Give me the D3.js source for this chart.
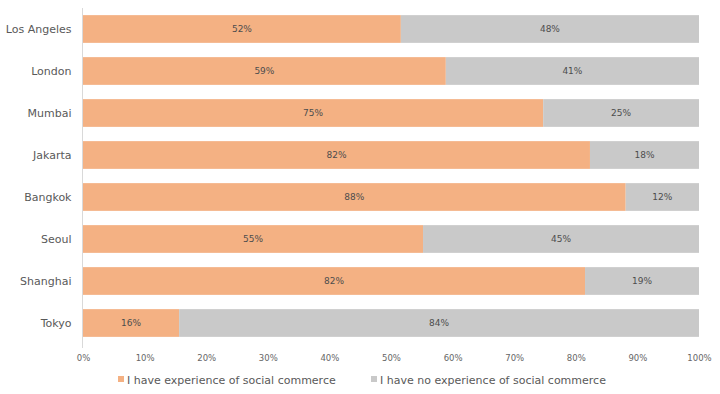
<!DOCTYPE html>
<html>
<head>
<meta charset="utf-8">
<script src="https://cdn.jsdelivr.net/npm/d3@7"></script>
<style>
  body { margin: 0; background: #fff; }
  text { font-family: "DejaVu Sans", Verdana, sans-serif; }
</style>
</head>
<body>
<div class="chart"></div>
<script>
const cities = ["Los Angeles", "London", "Mumbai", "Jakarta", "Bangkok", "Seoul", "Shanghai", "Tokyo"]
const experience = [51.6, 58.9, 74.7, 82.3, 88.1, 55.2, 81.5, 15.6]
const noExperience = [48.4, 41.1, 25.3, 17.7, 11.9, 44.8, 18.5, 84.4]
const seriesNames = ["I have experience of social commerce", "I have no experience of social commerce"]
const colors = ["#f4b183", "#c9c9c9"]
const ticks = [0, 10, 20, 30, 40, 50, 60, 70, 80, 90, 100]

const width = 720, height = 394
const margin = {top: 8, right: 21, bottom: 50, left: 83}

const data = cities.map((c, i) => ({city: c, a: experience[i], b: noExperience[i]}))
const stack = d3.stack().keys(["a", "b"])(data)

const x = d3.scaleLinear().domain([0, 100]).range([margin.left, width - margin.right])
const y = d3.scaleBand().domain(cities).range([margin.top, height - margin.bottom]).paddingInner(0.34).paddingOuter(0.17)

const svg = d3.create("svg").attr("width", width).attr("height", height)

const groups = svg.selectAll("g.series")
    .data(stack)
    .join("g")
    .attr("fill", (d, i) => colors[i])

groups.selectAll("rect")
    .data(d => d)
    .join("rect")
    .attr("x", d => x(d[0]))
    .attr("y", d => y(d.data.city))
    .attr("width", d => x(d[1]) - x(d[0]))
    .attr("height", y.bandwidth())

groups.selectAll("text")
    .data(d => d)
    .join("text")
    .attr("x", d => (x(d[0]) + x(d[1])) / 2)
    .attr("y", d => y(d.data.city) + y.bandwidth() / 2)
    .attr("dy", "0.35em")
    .attr("text-anchor", "middle")
    .attr("font-size", 9)
    .attr("fill", "#4d4d4d")
    .text(d => Math.round(d[1] - d[0]) + "%")

// category axis
svg.append("g")
    .attr("transform", `translate(${margin.left - 0.5},0)`)
    .call(d3.axisLeft(y).tickSize(0).tickPadding(11))
    .call(g => g.select(".domain").attr("stroke", "#d9d9d9").attr("d", `M0,${margin.top}V${height - margin.bottom + 4}`))
    .call(g => g.selectAll("text").attr("font-size", 11).attr("fill", "#595959").style("font-family", "'DejaVu Sans', sans-serif"))

// value axis
svg.append("g")
    .attr("transform", `translate(0,${height - margin.bottom + 8})`)
    .call(d3.axisBottom(x).tickValues(ticks).tickSize(0).tickFormat(d => d + "%"))
    .call(g => g.select(".domain").remove())
    .call(g => g.selectAll("text").attr("font-size", 8.5).attr("fill", "#666").style("font-family", "'DejaVu Sans', sans-serif"))

// legend
const legendX = [118, 371]
const legend = svg.append("g")
seriesNames.forEach((name, i) => {
    legend.append("rect")
        .attr("x", legendX[i]).attr("y", 376)
        .attr("width", 6).attr("height", 6)
        .attr("fill", colors[i])
    legend.append("text")
        .attr("x", legendX[i] + 9).attr("y", 380)
        .attr("dy", "0.35em")
        .attr("font-size", 11)
        .attr("fill", "#595959")
        .text(name)
})

document.querySelector(".chart").appendChild(svg.node())
</script>
</body>
</html>
